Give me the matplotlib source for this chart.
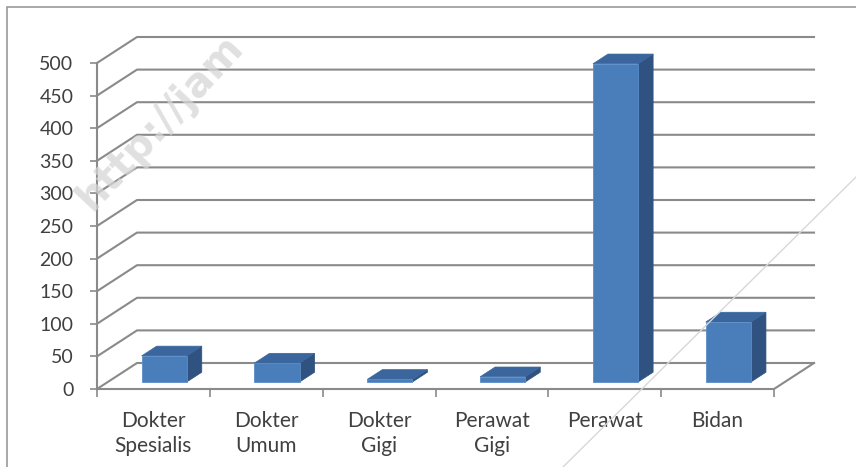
import matplotlib
matplotlib.use("Agg")
import matplotlib.pyplot as plt
from matplotlib.patches import Polygon, Rectangle
from matplotlib.lines import Line2D

categories = ["Dokter\nSpesialis", "Dokter\nUmum", "Dokter\nGigi",
              "Perawat\nGigi", "Perawat", "Bidan"]
values = [40, 29, 4, 8, 488, 92]
yticks = [0, 50, 100, 150, 200, 250, 300, 350, 400, 450, 500]

W, H = 856, 467
fig = plt.figure(figsize=(W / 100, H / 100), dpi=100)
fig.patch.set_facecolor("white")

# front plane axes
ax = fig.add_axes([97 / W, (H - 389) / H, (774 - 97) / W, (389 - 63) / H])
ax.set_xlim(-0.5, len(categories) - 0.5)
ax.set_ylim(0, 500)
ax.patch.set_visible(False)

# depth of the 3D box, in data units
DX = 40 / ((774 - 97) / len(categories))
DY = 26 / ((389 - 63) / 500)

grid_c = "#8a8a8a"
xl, xr = -0.5, len(categories) - 0.5
for v in yticks:
    ax.add_line(Line2D([xl, xl + DX, xr + DX], [v, v + DY, v + DY],
                       color=grid_c, lw=1.5, clip_on=False, zorder=1))
# floor
ax.add_line(Line2D([xl, xr, xr + DX], [0, 0, DY], color=grid_c, lw=1.5,
                   clip_on=False, zorder=1))

# spines / ticks
for s in ["top", "right"]:
    ax.spines[s].set_visible(False)
ax.spines["bottom"].set_visible(False)
ax.spines["left"].set_color(grid_c)
ax.spines["left"].set_linewidth(1.5)
ax.set_yticks(yticks)
ax.set_yticklabels([str(t) for t in yticks], fontsize=14, color="#404040",
                   family="Lato")
ax.tick_params(axis="y", length=5, width=1.2, color=grid_c, pad=12)
xs = list(range(len(categories)))
ax.set_xticks(xs)
ax.set_xticklabels(categories, fontsize=15, color="#404040", family="Lato",
                   linespacing=1.3)
ax.tick_params(axis="x", which="major", length=0, pad=16)
ax.set_xticks([i - 0.5 for i in range(len(categories) + 1)], minor=True)
ax.tick_params(axis="x", which="minor", length=6, width=1.2, color=grid_c)

# bars
f0, f1 = 0.27, 0.645
bw = 0.40
front_c, side_c, top_c = "#4a7ebb", "#2f5280", "#3a669d"
ax.bar([x + f0 * DX for x in xs], values, width=bw, bottom=f0 * DY,
       color=front_c, edgecolor="#5b8cc8", linewidth=0.6, zorder=3,
       clip_on=False)
d_x = (f1 - f0) * DX
d_y = (f1 - f0) * DY
for x, v in zip(xs, values):
    x0 = x - bw / 2 + f0 * DX
    x1 = x + bw / 2 + f0 * DX
    y0 = f0 * DY
    y1 = v + f0 * DY
    ax.add_patch(Polygon([(x1, y0), (x1 + d_x, y0 + d_y), (x1 + d_x, y1 + d_y),
                          (x1, y1)], closed=True, facecolor=side_c,
                         edgecolor=side_c, lw=0.5, zorder=2.5, clip_on=False))
    ax.add_patch(Polygon([(x0, y1), (x1, y1), (x1 + d_x, y1 + d_y),
                          (x0 + d_x, y1 + d_y)], closed=True, facecolor=top_c,
                         edgecolor=top_c, lw=0.5, zorder=2.6, clip_on=False))

# outer frame
fig.add_artist(Rectangle((7 / W, -0.1), 1.2, (H - 7) / H + 0.1,
                         transform=fig.transFigure, fill=False,
                         edgecolor="#9a9a9a", lw=1.2))

# watermark
fig.text(92 / W, (H - 212) / H, "http://jam", rotation=47,
         rotation_mode="anchor", ha="left", va="baseline", fontsize=29,
         fontweight="bold", family="DejaVu Sans", color="#d6d6d6",
         alpha=0.75, zorder=10)
fig.add_artist(Line2D([1.0, 563 / W], [(H - 177) / H, 0.0],
                      transform=fig.transFigure, color="#d8d8d8", lw=1.0))

fig.savefig("out.png", dpi=100, facecolor="white")
